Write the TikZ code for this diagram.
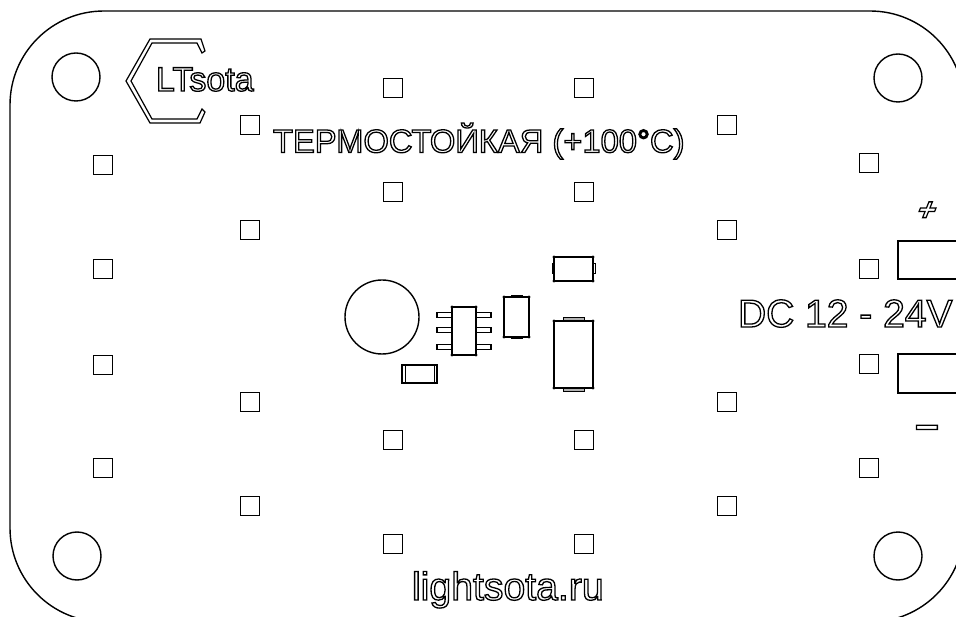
\documentclass[tikz,border=0pt]{standalone}
\usepackage{fontspec}
\setmainfont{Liberation Sans}
\newcommand{\outl}[1]{\special{pdf:code 1.3 w 1 Tr}#1\special{pdf:code 0 Tr}}
\tikzset{
  ln/.style={line width=1.4pt,black,line join=miter},
  pad/.style={draw,line width=1.35pt,minimum size=18.5pt,inner sep=0pt,outer sep=0pt},
  lab/.style={inner sep=0pt,outer sep=0pt,anchor=base west},
  part/.style={ln,fill=white},
  tab/.style={line width=1pt,fill=white,draw=black},
}
\begin{document}
\begin{tikzpicture}[x=1pt,y=-1pt]
\useasboundingbox (0,0) rectangle (956,617);
\clip (0,0) rectangle (956,617);
\fill[white] (0,0) rectangle (956,617);
% board outline
\draw[ln] (104,11) -- (870,11) .. controls (922,11) and (964,53) .. (964,105)
  -- (964,528) .. controls (964,580) and (922,622) .. (870,622)
  -- (104,622) .. controls (52,622) and (10,580) .. (10,528)
  -- (10,105) .. controls (10,53) and (52,11) .. (104,11) -- cycle;
% mounting holes
\draw[ln] (76,77) circle (24) (898,78) circle (24) (77,556) circle (24) (898,556) circle (24);
% pads
\foreach \px/\py [count=\i] in {103/165,103/269,103/365,103/468,
  250/125,250/230,250/402,250/506,
  393/88,393/192,393/440,393/544,
  584/88,584/192,584/440,584/544,
  727/125,727/230,727/402,727/506,
  869/163,869/269,869/364,869/468}
  \node[pad] (p\i) at (\px,\py) {};
% terminals
\draw[ln] (960,241) -- (898,241) -- (898,279) -- (960,279);
\draw[ln] (960,354) -- (898,354) -- (898,393) -- (960,393);
% logo
\draw[line width=1.2pt] (201,39) -- (150,39) -- (126,81) -- (150,123) -- (200,123) -- (205,112)
  -- (202,109) -- (197,119) -- (152,119) -- (131,81) -- (152,43) -- (197,43) -- (202,53) -- (205,51) -- cycle;
% texts
\node[lab,font=\fontsize{34}{34}\selectfont] (logo) at (156,91) {\outl{LTsota}};
\node[lab,font=\fontsize{32.7}{33}\selectfont] (title) at (273,152.5) {\outl{ТЕРМОСТОЙКАЯ (+100°C)}};
\node[lab,font=\fontsize{39}{39}\selectfont] (dc) at (738,327) {\outl{DC 12 - 24V}};
\node[lab,font=\fontsize{39.2}{39}\selectfont] (site) at (412,600) {\outl{lightsota.ru}};
\node[inner sep=0pt,font=\bfseries\fontsize{31}{31}\selectfont,xslant=0.4,transform shape] (plus) at (927,211) {\outl{+}};
\node[inner sep=0pt,font=\bfseries\fontsize{42}{42}\selectfont] (minus) at (927,432) {\outl{–}};
% parts
\draw[ln] (382,317) circle (37);
\foreach \y in {315,330,347} {
  \draw[line width=1.1pt,fill=white] (437,\y-2.5) rectangle (491,\y+2.5);
}
\draw[part] (452,307) rectangle (476,355);
\draw[line width=1.2pt,fill=white] (402,365) rectangle (437,383);
\draw[line width=1pt] (405,365) -- (405,383) (434,365) -- (434,383);
\draw[tab] (511,295.5) rectangle (522,298);
\draw[tab] (511,336) rectangle (522,338.5);
\draw[part] (504,297) rectangle (529,337);
\draw[tab] (552,264) rectangle (555,274);
\draw[tab] (592,264) rectangle (595,274);
\draw[part] (554,257) rectangle (593,281);
\draw[tab,fill=black!30] (563,318) rectangle (584,321);
\draw[tab,fill=black!30] (563,388) rectangle (584,391.5);
\draw[part] (554,321) rectangle (593,388);
\foreach \a/\b in {452/307,476/307,452/355,476/355,504/297,529/297,504/337,529/337,
  554/257,593/257,554/281,593/281,554/321,593/321,554/388,593/388}
  \fill (\a,\b) circle (1.6);
\end{tikzpicture}
\end{document}
